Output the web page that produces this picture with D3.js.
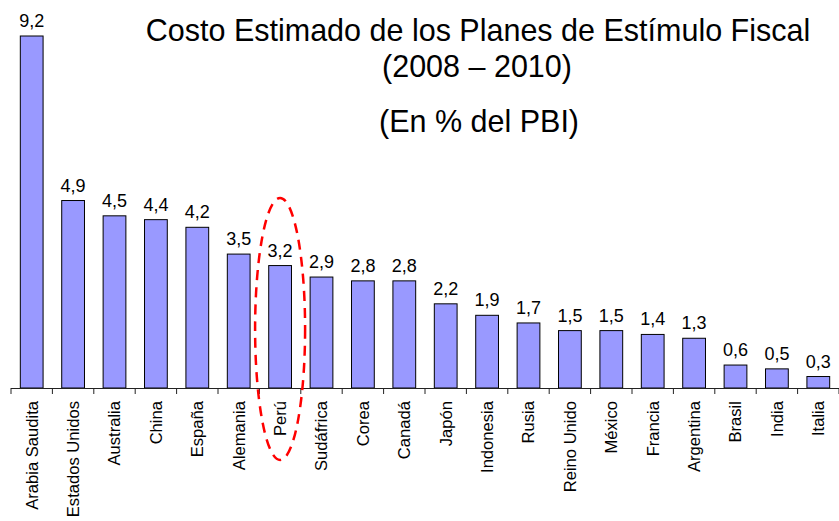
<!DOCTYPE html>
<html>
<head>
<meta charset="utf-8">
<script src="https://cdn.jsdelivr.net/npm/d3@7"></script>
<style>
  body { margin: 0; background: #fff; }
  text { font-family: "Liberation Sans", Arial, sans-serif; fill: #000; }
</style>
</head>
<body>
<div id="chart"></div>
<script>
var countries = ["Arabia Saudita", "Estados Unidos", "Australia", "China", "España", "Alemania", "Perú",
    "Sudáfrica", "Corea", "Canadá", "Japón", "Indonesia", "Rusia", "Reino Unido", "México", "Francia",
    "Argentina", "Brasil", "India", "Italia"];
var costs = [9.2, 4.9, 4.5, 4.4, 4.2, 3.5, 3.2, 2.9, 2.8, 2.8, 2.2, 1.9, 1.7, 1.5, 1.5, 1.4, 1.3, 0.6, 0.5, 0.3];
var titleLines = ["Costo Estimado de los Planes de Estímulo Fiscal", "(2008 – 2010)", "(En % del PBI)"];
var highlighted = "Perú";

var width = 839, height = 521;
var baseY = 388;

var data = countries.map(function (c, i) {
    return {country: c, value: costs[i]};
});

var svg = d3.select("#chart").append("svg")
    .attr("width", width)
    .attr("height", height);

var x = d3.scaleBand()
    .domain(countries)
    .range([11, 839])
    .paddingInner(0.45)
    .paddingOuter(0.225);

var y = d3.scaleLinear()
    .domain([0, 9.2])
    .range([baseY, 36]);

var fmt = function (v) { return d3.format(".1f")(v).replace(".", ","); };

// title
svg.append("text")
    .attr("x", 478).attr("y", 41)
    .attr("text-anchor", "middle")
    .style("font-size", "30.5px")
    .text(titleLines[0]);
svg.append("text")
    .attr("x", 477).attr("y", 77)
    .attr("text-anchor", "middle")
    .style("font-size", "30.5px")
    .text(titleLines[1]);
svg.append("text")
    .attr("x", 479).attr("y", 132)
    .attr("text-anchor", "middle")
    .style("font-size", "30.5px")
    .text(titleLines[2]);

//bars
var bars = svg.selectAll(".bar")
    .data(data)
    .enter()
    .append("g");

bars.append("rect")
    .attr("class", "bar")
    .attr("x", function (d) { return x(d.country); })
    .attr("y", function (d) { return y(d.value); })
    .attr("width", x.bandwidth())
    .attr("height", function (d) { return baseY - y(d.value); })
    .style("fill", "#9999FF")
    .style("stroke", "#000")
    .style("stroke-width", 1);

// value labels
bars.append("text")
    .attr("x", function (d) { return x(d.country) + x.bandwidth() / 2; })
    .attr("y", function (d) { return y(d.value) - 9; })
    .attr("text-anchor", "middle")
    .style("font-size", "18px")
    .text(function (d) { return fmt(d.value); });

// axis line + ticks between categories
var step = x.step();
var edge0 = x(countries[0]) - step * x.paddingInner() / 2;
var edges = d3.range(countries.length + 1).map(function (i) { return edge0 + i * step; });

svg.append("line")
    .attr("x1", edges[0]).attr("x2", width)
    .attr("y1", baseY + 0.5).attr("y2", baseY + 0.5)
    .style("stroke", "#222").style("stroke-width", 1);

svg.selectAll(".tick")
    .data(edges)
    .enter()
    .append("line")
    .attr("class", "tick")
    .attr("x1", function (d) { return d; })
    .attr("x2", function (d) { return d; })
    .attr("y1", baseY)
    .attr("y2", baseY + 6)
    .style("stroke", "#222").style("stroke-width", 1);

// category labels
svg.selectAll(".cat")
    .data(countries)
    .enter()
    .append("text")
    .attr("class", "cat")
    .attr("transform", function (d) {
        return "translate(" + (x(d) + x.bandwidth() / 2) + "," + 401 + ") rotate(-90)";
    })
    .attr("dy", "0.35em")
    .attr("text-anchor", "end")
    .style("font-size", "16.6px")
    .text(function (d) { return d; });

// dashed ellipse around Peru
svg.append("ellipse")
    .attr("cx", x(highlighted) + x.bandwidth() / 2)
    .attr("cy", 329)
    .attr("rx", 25)
    .attr("ry", 131)
    .style("fill", "none")
    .style("stroke", "#FF0000")
    .style("stroke-width", 2.5)
    .style("stroke-dasharray", "10,7");
</script>
</body>
</html>
